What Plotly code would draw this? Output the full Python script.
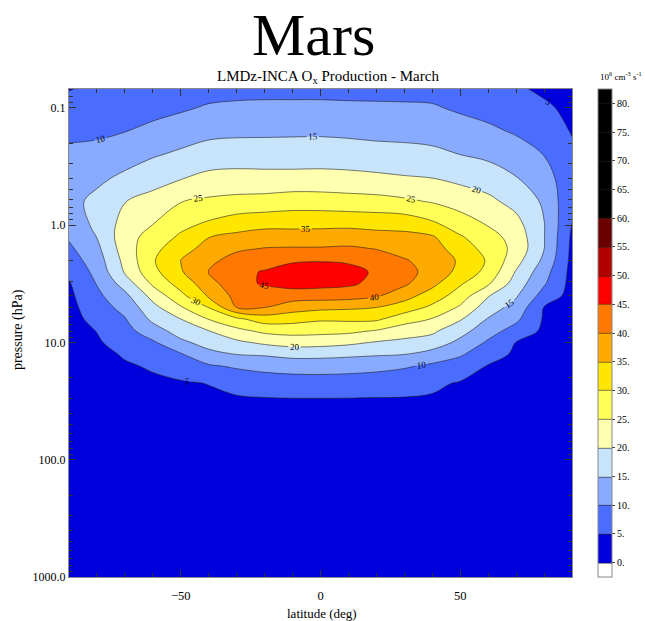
import plotly.graph_objects as go

# Latitude grid (deg) and pressure levels (hPa)
latitude = [-90, -80, -70, -60, -50, -40, -30, -20, -10, 0, 10, 20, 30, 40, 50, 60, 70, 80, 90]
pressure = [0.063, 0.1, 0.158, 0.25, 0.4, 0.63, 1.0, 1.26, 1.58, 2.0, 2.5, 3.16, 4.0, 5.0,
            6.3, 8.0, 10.0, 12.6, 15.8, 22.4, 31.6, 56.0, 100.0, 316.0, 1000.0]

# Ox production (10^6 cm-3 s-1), one row per pressure level, columns follow latitude
ox_production = [
    [4.3, 5.6, 6.5, 7.0, 7.5, 7.8, 8.0, 8.0, 8.0, 8.0, 8.0, 8.0, 8.0, 7.9, 7.6, 6.8, 5.3, 3.6, 2.8],
    [6.8, 7.4, 8.2, 8.6, 9.4, 10.5, 10.9, 11.1, 11.1, 11.1, 10.9, 10.8, 10.7, 10.5, 9.3, 8.4, 7.5, 5.9, 3.7],
    [9.0, 9.2, 9.9, 11.1, 12.4, 13.7, 14.0, 14.1, 14.2, 14.2, 14.0, 13.7, 13.5, 13.2, 12.1, 10.9, 9.5, 7.9, 4.7],
    [11.0, 11.4, 12.8, 14.5, 15.9, 17.2, 17.6, 17.5, 17.5, 17.7, 17.3, 16.8, 16.6, 16.1, 15.0, 14.0, 12.2, 9.9, 6.0],
    [12.8, 14.0, 16.1, 18.2, 19.8, 21.4, 21.7, 21.6, 21.6, 21.6, 21.5, 21.1, 20.5, 20.1, 18.9, 17.6, 15.3, 12.1, 6.8],
    [13.5, 16.3, 19.9, 21.7, 24.9, 25.9, 26.5, 26.8, 27.6, 27.5, 27.0, 26.7, 25.9, 24.7, 22.9, 21.2, 18.4, 14.3, 5.8],
    [12.0, 16.0, 22.0, 25.1, 28.8, 31.0, 33.1, 34.0, 34.0, 34.1, 34.2, 33.9, 33.6, 31.2, 27.8, 24.8, 21.7, 15.2, 4.9],
    [10.6, 15.1, 22.9, 27.0, 30.8, 34.9, 36.2, 37.1, 37.1, 37.1, 37.4, 36.5, 36.3, 35.6, 30.5, 27.0, 23.0, 15.2, 4.2],
    [9.1, 13.8, 22.5, 28.5, 33.0, 36.8, 39.2, 40.2, 40.4, 40.4, 40.7, 39.8, 38.2, 37.2, 32.4, 28.3, 23.5, 15.1, 3.9],
    [7.5, 12.6, 21.4, 29.5, 35.1, 38.8, 41.9, 42.6, 44.3, 44.7, 44.2, 42.5, 40.4, 38.2, 34.3, 29.4, 21.8, 13.9, 3.7],
    [6.0, 11.4, 20.5, 28.5, 34.5, 40.1, 43.6, 45.4, 47.5, 47.5, 46.9, 44.2, 41.5, 38.4, 33.5, 28.4, 19.6, 12.0, 3.5],
    [4.6, 10.2, 17.0, 25.8, 32.0, 37.7, 43.8, 45.4, 46.8, 46.5, 45.8, 43.6, 40.8, 36.2, 30.5, 25.6, 17.6, 10.5, 3.4],
    [4.0, 8.9, 13.7, 21.7, 28.6, 35.7, 41.5, 42.6, 42.4, 42.3, 42.0, 40.6, 36.8, 32.7, 27.6, 20.3, 15.5, 8.0, 3.3],
    [3.6, 7.7, 11.6, 18.5, 24.6, 30.2, 40.2, 40.2, 37.4, 36.4, 35.9, 35.1, 32.8, 29.0, 24.4, 17.4, 13.3, 4.9, 3.2],
    [3.3, 6.5, 9.7, 16.1, 20.0, 25.2, 29.0, 32.5, 31.9, 30.7, 31.0, 30.9, 27.1, 24.8, 20.5, 14.7, 11.0, 4.5, 3.1],
    [3.0, 5.1, 8.2, 12.8, 17.0, 19.8, 23.5, 26.0, 26.7, 26.4, 26.0, 24.5, 22.3, 20.8, 16.8, 11.9, 8.0, 4.1, 3.0],
    [2.8, 4.5, 6.8, 9.3, 14.0, 16.7, 19.0, 20.9, 22.0, 21.8, 21.0, 19.6, 18.8, 17.9, 13.7, 9.3, 4.9, 3.8, 2.9],
    [2.6, 4.1, 5.3, 7.3, 9.6, 13.7, 15.1, 15.5, 16.6, 16.5, 16.0, 15.5, 15.1, 13.0, 10.6, 6.9, 4.3, 3.6, 2.8],
    [2.4, 3.8, 4.7, 5.3, 7.2, 9.5, 10.7, 11.8, 12.1, 12.2, 12.0, 11.6, 10.6, 9.2, 7.7, 4.8, 4.0, 3.4, 2.7],
    [2.2, 3.4, 4.2, 4.5, 4.5, 5.1, 6.4, 6.9, 7.6, 7.7, 7.5, 7.0, 6.7, 5.8, 4.6, 4.1, 3.6, 3.2, 2.6],
    [2.0, 3.1, 3.8, 4.1, 3.9, 4.1, 4.3, 4.5, 4.5, 4.5, 4.5, 4.5, 4.5, 4.4, 4.0, 3.6, 3.3, 3.0, 2.5],
    [1.7, 2.6, 3.2, 3.4, 3.2, 3.3, 3.4, 3.5, 3.5, 3.5, 3.5, 3.5, 3.5, 3.5, 3.3, 3.1, 2.9, 2.6, 2.3],
    [1.4, 2.2, 2.6, 2.8, 2.7, 2.7, 2.8, 2.9, 2.9, 2.9, 2.9, 2.9, 2.9, 2.9, 2.8, 2.6, 2.5, 2.3, 2.1],
    [0.8, 1.3, 1.5, 1.6, 1.6, 1.6, 1.6, 1.7, 1.7, 1.7, 1.7, 1.7, 1.7, 1.7, 1.7, 1.6, 1.5, 1.4, 1.3],
    [0.4, 0.6, 0.7, 0.8, 0.8, 0.8, 0.8, 0.8, 0.8, 0.8, 0.8, 0.8, 0.8, 0.8, 0.8, 0.8, 0.8, 0.7, 0.6],
]

# One colour per 5-unit band: below 0, 0-5, 5-10, ... , 80 and above
band_colors = ["#ffffff", "#0000dc", "#4a6cff", "#88aaff", "#c8e4fa", "#ffffb0",
               "#ffff58", "#ffe600", "#ffaa00", "#ff7800", "#ff0000", "#b00000",
               "#6a0000", "#000000", "#000000", "#000000", "#000000", "#000000"]
cbar_ticks = list(range(0, 85, 5))
cbar_labels = [f"{v}." for v in cbar_ticks]

y_ticks = [0.1, 1, 10, 100, 1000]
y_labels = ["0.1", "1.0", "10.0", "100.0", "1000.0"]
x_ticks = [-50, 0, 50]

SERIF = "Liberation Serif"

colorscale = [[i / (len(band_colors) - 1), c] for i, c in enumerate(band_colors)]

fig = go.Figure(go.Contour(
    x=latitude, y=pressure, z=ox_production,
    autocontour=False,
    contours=dict(start=0, end=80, size=5, coloring="fill", showlabels=True,
                  labelformat=".0f",
                  labelfont=dict(family=SERIF, size=9, color="black")),
    line=dict(color="#222222", width=0.6),
    colorscale=colorscale,
    hoverinfo="skip",
    colorbar=dict(
        x=1.0517, xanchor="left", xpad=0, y=0.5, yanchor="middle", ypad=0,
        len=1.0, lenmode="fraction", thickness=14,
        outlinecolor="#888888", outlinewidth=1,
        tickmode="array", tickvals=cbar_ticks, ticktext=cbar_labels,
        ticks="outside", ticklen=3, tickcolor="#444444",
        tickfont=dict(family=SERIF, size=10, color="black"),
    ),
))

minor_y = [m * 10 ** e for e in range(-2, 3) for m in range(2, 10)]

fig.update_xaxes(
    range=[-90, 90], tickmode="array", tickvals=x_ticks,
    ticks="inside", ticklen=7, tickcolor="#333333", mirror="ticks",
    showline=True, linecolor="#888888", linewidth=1, showgrid=False, zeroline=False,
    tickfont=dict(family=SERIF, size=12.5, color="black"), ticklabelstandoff=7,
    minor=dict(ticks="inside", ticklen=4, dtick=10, tick0=0, tickcolor="#333333", showgrid=False),
)
fig.update_yaxes(
    type="log", range=[3, -1.162], tickmode="array", tickvals=y_ticks, ticktext=y_labels,
    ticks="inside", ticklen=7, tickcolor="#333333", mirror="ticks",
    showline=True, linecolor="#888888", linewidth=1, showgrid=False, zeroline=False,
    tickfont=dict(family=SERIF, size=12, color="black"),
    minor=dict(ticks="inside", ticklen=4, tickmode="array", tickvals=minor_y,
               tickcolor="#333333", showgrid=False),
)

annotations = [
    dict(text="Mars", x=0.487, y=1.11, xref="paper", yref="paper",
         xanchor="center", yanchor="middle", showarrow=False,
         font=dict(family=SERIF, size=60, color="black")),
    dict(text="LMDz-INCA O<sub>x</sub> Production - March", x=0.515, y=1.024,
         xref="paper", yref="paper", xanchor="center", yanchor="middle", showarrow=False,
         font=dict(family=SERIF, size=15, color="black")),
    dict(text="10<sup>6</sup> cm<sup>-3</sup> s<sup>-1</sup>", x=1.0517, y=1.026,
         xref="paper", yref="paper", xanchor="left", yanchor="middle", showarrow=False,
         font=dict(family=SERIF, size=9, color="black")),
    dict(text="latitude (deg)", x=0.502, y=-0.074, xref="paper", yref="paper",
         xanchor="center", yanchor="middle", showarrow=False,
         font=dict(family=SERIF, size=13, color="black")),
    dict(text="pressure (hPa)", x=-0.1014, y=0.508, xref="paper", yref="paper",
         xanchor="center", yanchor="middle", showarrow=False, textangle=-90,
         font=dict(family=SERIF, size=14, color="black")),
]

fig.update_layout(
    width=645, height=621, autosize=False,
    margin=dict(l=69, r=73, t=89, b=44),
    paper_bgcolor="white", plot_bgcolor="white",
    showlegend=False, annotations=annotations,
)

fig.write_html("out.html")
